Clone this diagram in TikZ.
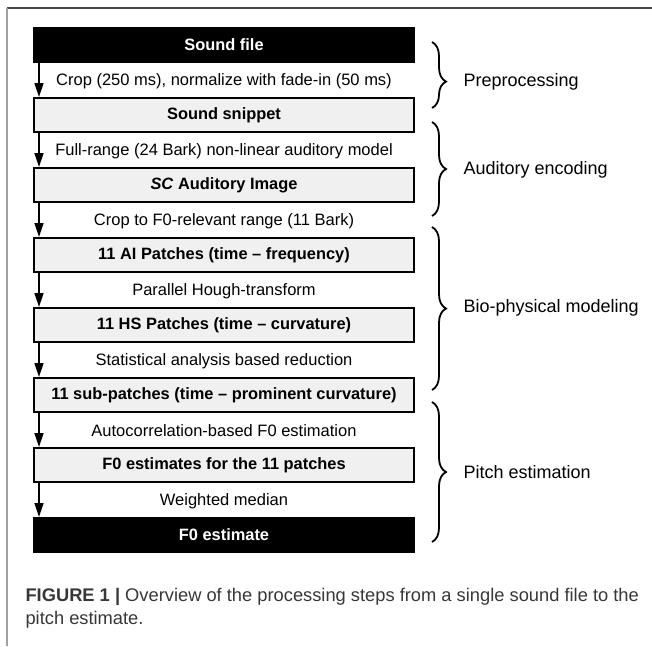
\documentclass[tikz,border=0pt]{standalone}
\usepackage{fontspec}
\setmainfont{Liberation Sans}
\usetikzlibrary{arrows.meta,decorations.pathreplacing}

\definecolor{boxgray}{RGB}{240,240,240}
\definecolor{framedark}{RGB}{70,70,70}
\definecolor{framelight}{RGB}{160,160,160}
\definecolor{capgray}{RGB}{55,55,55}

\tikzset{
  stepbox/.style={draw, line width=2pt, fill=boxgray, minimum width=380pt, minimum height=34pt,
    inner sep=0pt, font=\bfseries\fontsize{16.4}{20}\selectfont},
  endbox/.style={stepbox, fill=black, text=white},
  steplabel/.style={font=\fontsize{16.5}{20}\selectfont},
  flow/.style={line width=1.5pt, -{Triangle[length=14pt,width=9pt]}},
  stagebrace/.style={decorate, decoration={brace, amplitude=14pt}, line width=1.8pt},
  stagename/.style={anchor=west, font=\fontsize{18}{22}\selectfont},
  caption/.style={anchor=base west, text=capgray, font=\fontsize{18.3}{23}\selectfont}
}

\begin{document}
\begin{tikzpicture}[x=1pt, y=-1pt]
  \useasboundingbox (0,0) rectangle (652,646);
  % page frame
  \draw[framedark, line width=1.8pt] (7,8) -- (652,8);
  \draw[framelight, line width=1.5pt] (7,8) -- (7,646);

  % processing steps
  \node[endbox] (b0) at (224,45) {Sound file};
  \foreach \i/\txt in {1/Sound snippet, 2/{\textit{SC} Auditory Image},
      3/{11 AI Patches (time – frequency)}, 4/{11 HS Patches (time – curvature)},
      5/{11 sub-patches (time – prominent curvature)}, 6/{F0 estimates for the 11 patches}}
    \node[stepbox] (b\i) at (224,{45+70*\i}) {\txt};
  \node[endbox] (b7) at (224,535) {F0 estimate};

  % what happens between two steps
  \foreach \i/\txt in {0/{Crop (250 ms), normalize with fade-in (50 ms)},
      1/{Full-range (24 Bark) non-linear auditory model}, 2/{Crop to F0-relevant range (11 Bark)},
      3/Parallel Hough-transform, 4/Statistical analysis based reduction,
      5/Autocorrelation-based F0 estimation, 6/Weighted median} {
    \pgfmathtruncatemacro{\j}{\i+1}
    \node[steplabel] (t\i) at (224,{81+70*\i}) {\txt};
    \draw[flow] ([xshift=6pt]b\i.south west) -- ([xshift=6pt]b\j.north west);
  }

  % stages
  \draw[stagebrace, decoration={aspect=0.6}] (432,42) -- (432,108);
  \node[stagename] (pre) at (460,82) {Preprocessing};
  \draw[stagebrace] (432,122) -- (432,216);
  \node[stagename] (aud) at (460,170) {Auditory encoding};
  \draw[stagebrace] (432,227) -- (432,390);
  \node[stagename] (bio) at (460,308) {Bio-physical modeling};
  \draw[stagebrace] (432,402) -- (432,542);
  \node[stagename] (pitch) at (460,472) {Pitch estimation};

  % caption
  \node[caption] (cap1) at (22,601) {\textbf{FIGURE 1 |} Overview of the processing steps from a single sound file to the};
  \node[caption] (cap2) at (22,624) {pitch estimate.};
\end{tikzpicture}
\end{document}
